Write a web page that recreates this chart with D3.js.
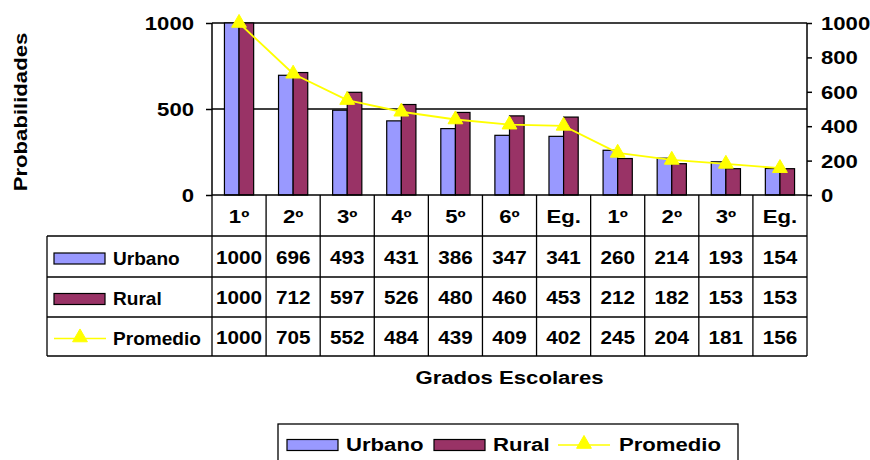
<!DOCTYPE html>
<html>
<head>
<meta charset="utf-8">
<script src="https://cdn.jsdelivr.net/npm/d3@7"></script>
<style>
  html, body { margin: 0; padding: 0; background: #fff; }
  svg text { font-family: "Liberation Sans", Arial, sans-serif; font-weight: bold; fill: #000; }
</style>
</head>
<body>
<svg id="chart" width="870" height="460"></svg>
<script>
// Grados escolares (primaria 1º-6º + egreso, secundaria 1º-3º + egreso)
const categories = ["1º", "2º", "3º", "4º", "5º", "6º", "Eg.", "1º", "2º", "3º", "Eg."];
const urbano   = [1000, 696, 493, 431, 386, 347, 341, 260, 214, 193, 154];
const rural    = [1000, 712, 597, 526, 480, 460, 453, 212, 182, 153, 153];
const promedio = [1000, 705, 552, 484, 439, 409, 402, 245, 204, 181, 156];
const leftTicks = [0, 500, 1000];
const rightTicks = [0, 200, 400, 600, 800, 1000];

const seriesNames = ["Urbano", "Rural", "Promedio"];
const seriesValues = [urbano, rural, promedio];
const colors = { Urbano: "#9999FF", Rural: "#993366", Promedio: "#FFFF00" };

const svg = d3.select("#chart");
const FS = 18, SX = 1.23;

// bold text, slightly widened horizontally
function label(g, px, py, str, anchor, sx) {
  return g.append("text")
    .attr("transform", `translate(${px},${py}) scale(${sx || SX},1)`)
    .attr("font-size", FS)
    .attr("text-anchor", anchor || "middle")
    .attr("dy", "0.36em")
    .text(str);
}

const plotLeft = 212, plotRight = 807, plotTop = 23, plotBase = 195;
const x = d3.scaleBand().domain(d3.range(categories.length)).range([plotLeft, plotRight]);
const y = d3.scaleLinear().domain([0, 1000]).range([plotBase, plotTop]);
const y2 = d3.scaleLinear().domain([0, 1000]).range([plotBase, plotTop]);
const bw = x.bandwidth() * 0.27;
const cx = i => x(i) + x.bandwidth() / 2;

// gridlines
svg.append("g").selectAll("line").data([500, 1000]).join("line")
  .attr("x1", plotLeft).attr("x2", plotRight)
  .attr("y1", d => y(d)).attr("y2", d => y(d))
  .attr("stroke", "#000").attr("stroke-width", 1.5);

// bars
const bars = svg.append("g");
bars.selectAll("rect.u").data(urbano).join("rect").attr("class", "u")
  .attr("x", (d, i) => cx(i) - bw)
  .attr("y", d => y(d)).attr("width", bw).attr("height", d => plotBase - y(d))
  .attr("fill", colors.Urbano).attr("stroke", "#000").attr("stroke-width", 1.2);
bars.selectAll("rect.r").data(rural).join("rect").attr("class", "r")
  .attr("x", (d, i) => cx(i))
  .attr("y", d => y(d)).attr("width", bw).attr("height", d => plotBase - y(d))
  .attr("fill", colors.Rural).attr("stroke", "#000").attr("stroke-width", 1.2);

// average line with triangle markers
const lineGen = d3.line().x((d, i) => cx(i)).y(d => y2(d));
svg.append("path").datum(promedio).attr("d", lineGen)
  .attr("fill", "none").attr("stroke", colors.Promedio).attr("stroke-width", 1.8);
const tri = d3.symbol().type(d3.symbolTriangle).size(95);
svg.append("g").selectAll("path").data(promedio).join("path")
  .attr("d", tri)
  .attr("transform", (d, i) => `translate(${cx(i)},${y2(d)})`)
  .attr("fill", colors.Promedio).attr("stroke", colors.Promedio);

// axes
const axL = svg.append("g").attr("transform", `translate(${plotLeft},0)`)
  .call(d3.axisLeft(y).tickValues(leftTicks).tickSize(6).tickFormat(d3.format("d")));
const axR = svg.append("g").attr("transform", `translate(${plotRight},0)`)
  .call(d3.axisRight(y2).tickValues(rightTicks).tickSize(5).tickFormat(d3.format("d")));
[axL, axR].forEach(ax => {
  ax.select(".domain").attr("stroke", "#000").attr("stroke-width", 1.5).attr("d", `M0,${plotTop}V${plotBase}`);
  ax.selectAll(".tick line").attr("stroke", "#000").attr("stroke-width", 1.5);
  ax.selectAll(".tick text").remove();
});
axL.selectAll(".tick").each(function (d) { label(d3.select(this), -18, 0, String(d), "end"); });
axR.selectAll(".tick").each(function (d) { label(d3.select(this), 14, 0, String(d), "start"); });

// data table
const tbl = svg.append("g");
const rowY = [195, 236, 277, 317, 356];
const tLeft = 47;
const stroke = (sel) => sel.attr("stroke", "#000").attr("stroke-width", 1.3);
tbl.append("line").attr("x1", plotLeft).attr("x2", plotRight).attr("y1", plotBase).attr("y2", plotBase).call(stroke).attr("stroke-width", 1.6);
rowY.slice(1).forEach(ry => tbl.append("line").attr("x1", tLeft).attr("x2", plotRight).attr("y1", ry).attr("y2", ry).call(stroke));
d3.range(categories.length + 1).forEach(i => {
  const xx = i < categories.length ? x(i) : plotRight;
  tbl.append("line").attr("x1", xx).attr("x2", xx).attr("y1", plotBase).attr("y2", rowY[4]).call(stroke);
});
tbl.append("line").attr("x1", tLeft).attr("x2", tLeft).attr("y1", rowY[1]).attr("y2", rowY[4]).call(stroke);

// header cells
categories.forEach((c, i) => label(tbl, cx(i), (rowY[0] + rowY[1]) / 2 + 1, c));
// value cells
seriesValues.forEach((vals, r) => {
  const cy = (rowY[r + 1] + rowY[r + 2]) / 2 + 1;
  vals.forEach((v, i) => label(tbl, cx(i), cy, String(v), "middle", 1.15));
});

// legend key drawing
function key(g, name, kx, ky) {
  if (name === "Promedio") {
    g.append("line").attr("x1", kx).attr("x2", kx + 52).attr("y1", ky).attr("y2", ky)
      .attr("stroke", colors.Promedio).attr("stroke-width", 1.5);
    g.append("path").attr("d", tri).attr("transform", `translate(${kx + 26},${ky - 1})`)
      .attr("fill", colors.Promedio).attr("stroke", colors.Promedio);
  } else {
    g.append("rect").attr("x", kx).attr("y", ky - 5.5).attr("width", 51).attr("height", 11)
      .attr("fill", colors[name]).attr("stroke", "#000").attr("stroke-width", 1.2);
  }
}
seriesNames.forEach((n, r) => {
  const cy = (rowY[r + 1] + rowY[r + 2]) / 2;
  key(tbl, n, 54, cy + 2);
  label(tbl, 113, cy + 2, n, "start", 1.06);
});

// axis titles
svg.append("text")
  .attr("transform", `translate(27,112) rotate(-90) scale(${SX},1)`)
  .attr("font-size", FS).attr("text-anchor", "middle").text("Probabilidades");
label(svg, (plotLeft + plotRight) / 2, 378, "Grados Escolares");

// bottom legend
const lg = svg.append("g");
lg.append("rect").attr("x", 278).attr("y", 424).attr("width", 460).attr("height", 50)
  .attr("fill", "none").attr("stroke", "#000").attr("stroke-width", 1.3);
const legendPos = [{ n: "Urbano", kx: 287, tx: 346 }, { n: "Rural", kx: 434, tx: 493 }, { n: "Promedio", kx: 558, tx: 619 }];
legendPos.forEach(p => {
  key(lg, p.n, p.kx, 445);
  label(lg, p.tx, 445, p.n, "start");
});
</script>
</body>
</html>
